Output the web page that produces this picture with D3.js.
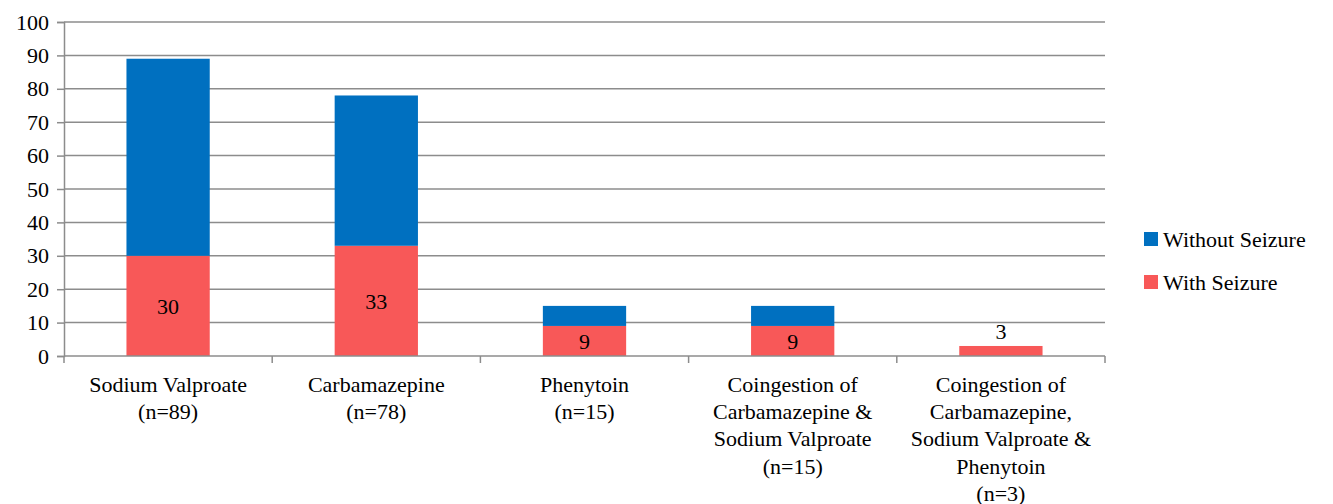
<!DOCTYPE html>
<html>
<head>
<meta charset="utf-8">
<script src="https://cdn.jsdelivr.net/npm/d3@7"></script>
<style>
  body { margin: 0; background: #fff; }
</style>
</head>
<body>
<div id="chart"></div>
<script>
// categories, each label split in lines
const categories = [
    ["Sodium Valproate", "(n=89)"],
    ["Carbamazepine", "(n=78)"],
    ["Phenytoin", "(n=15)"],
    ["Coingestion of", "Carbamazepine &", "Sodium Valproate", "(n=15)"],
    ["Coingestion of", "Carbamazepine,", "Sodium Valproate &", "Phenytoin", "(n=3)"]
];
const withSeizure = [30, 33, 9, 9, 3];
const withoutSeizure = [59, 45, 6, 6, 0];
const yTicks = [0, 10, 20, 30, 40, 50, 60, 70, 80, 90, 100];
const seriesNames = ["Without Seizure", "With Seizure"];

const colors = {blue: "#0070C0", red: "#F85858", grid: "#8C8C8C"};
const serif = "Liberation Serif";

const W = 1333, H = 504;
const margin = {top: 22, left: 64, right: 228, bottom: 148};
const width = W - margin.left - margin.right;
const height = H - margin.top - margin.bottom;

const svg = d3.select("#chart").append("svg")
    .attr("width", W)
    .attr("height", H)
    .attr("font-family", serif);

const g = svg.append("g")
    .attr("transform", "translate(" + margin.left + "," + margin.top + ")");

const x = d3.scaleBand()
    .domain(d3.range(categories.length))
    .range([0, width])
    .paddingInner(0.6)
    .paddingOuter(0.3);

const xBand = d3.scaleBand()
    .domain(d3.range(categories.length))
    .range([0, width]);

const y = d3.scaleLinear()
    .domain([0, 100])
    .range([height, 0]);

// gridlines
g.selectAll(".grid")
    .data(yTicks.filter(t => t > 0))
    .enter().append("line")
    .attr("class", "grid")
    .attr("x1", 0)
    .attr("x2", width)
    .attr("y1", d => y(d))
    .attr("y2", d => y(d))
    .attr("stroke", colors.grid)
    .attr("stroke-width", 1.5);

// y axis
const yAxis = d3.axisLeft(y)
    .tickValues(yTicks)
    .tickSize(7)
    .tickPadding(8);

const yG = g.append("g").call(yAxis)
    .attr("font-family", serif)
    .attr("font-size", 22);
yG.select(".domain").attr("stroke", colors.grid).attr("stroke-width", 1.5);
yG.selectAll(".tick line").attr("stroke", colors.grid).attr("stroke-width", 1.5);
yG.selectAll(".tick text")
    .attr("font-family", serif)
    .attr("fill", "#000");

// stacked data
const stackData = categories.map((c, i) => ({i: i, with: withSeizure[i], without: withoutSeizure[i]}));
const stack = d3.stack().keys(["with", "without"]);
const layers = stack(stackData);
const layerColor = {with: colors.red, without: colors.blue};

g.selectAll(".layer")
    .data(layers)
    .enter().append("g")
    .attr("class", "layer")
    .attr("fill", d => layerColor[d.key])
    .selectAll("rect")
    .data(d => d)
    .enter().append("rect")
    .attr("x", d => x(d.data.i))
    .attr("width", x.bandwidth())
    .attr("y", d => y(d[1]))
    .attr("height", d => y(d[0]) - y(d[1]));

// x axis
const xAxisG = g.append("g")
    .attr("transform", "translate(0," + height + ")");

xAxisG.append("line")
    .attr("x1", 0).attr("x2", width)
    .attr("y1", 0).attr("y2", 0)
    .attr("stroke", colors.grid)
    .attr("stroke-width", 1.5);

xAxisG.selectAll(".xtick")
    .data(d3.range(categories.length + 1))
    .enter().append("line")
    .attr("x1", d => d * xBand.bandwidth())
    .attr("x2", d => d * xBand.bandwidth())
    .attr("y1", 0).attr("y2", 7)
    .attr("stroke", colors.grid)
    .attr("stroke-width", 1.5);

xAxisG.selectAll(".xlabel")
    .data(categories)
    .enter().append("text")
    .attr("class", "xlabel")
    .attr("text-anchor", "middle")
    .attr("font-family", serif)
    .attr("font-size", 22)
    .attr("transform", (d, i) => "translate(" + (xBand(i) + xBand.bandwidth() / 2) + ",36)")
    .selectAll("tspan")
    .data(d => d)
    .enter().append("tspan")
    .attr("x", 0)
    .attr("y", (d, j) => j * 27.2)
    .text(d => d);

// data labels for With Seizure
g.selectAll(".dlabel")
    .data(stackData)
    .enter().append("text")
    .attr("class", "dlabel")
    .attr("text-anchor", "middle")
    .attr("dominant-baseline", "central")
    .attr("font-family", serif)
    .attr("font-size", 22)
    .attr("x", d => x(d.i) + x.bandwidth() / 2)
    .attr("y", d => d.without > 0 ? (y(0) + y(d.with)) / 2 + 1 : y(d.with) - 14)
    .text(d => d.with);

// legend
const legend = svg.append("g")
    .attr("transform", "translate(1144,0)");

const legendItems = legend.selectAll(".legend-item")
    .data(seriesNames)
    .enter().append("g")
    .attr("class", "legend-item")
    .attr("transform", (d, i) => "translate(0," + (239 + i * 43) + ")");

legendItems.append("rect")
    .attr("x", 0)
    .attr("y", -7)
    .attr("width", 14)
    .attr("height", 14)
    .attr("fill", d => d === "With Seizure" ? colors.red : colors.blue);

legendItems.append("text")
    .attr("x", 19)
    .attr("y", 0)
    .attr("dominant-baseline", "central")
    .attr("font-family", serif)
    .attr("font-size", 22)
    .text(d => d);
</script>
</body>
</html>
